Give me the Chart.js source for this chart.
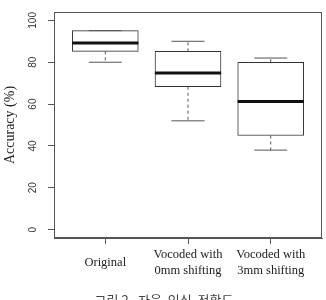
<!DOCTYPE html>
<html>
<head>
<meta charset="utf-8">
<script src="https://cdn.jsdelivr.net/npm/chart.js@4/dist/chart.umd.min.js"></script>
<style>
    html, body { margin: 0; padding: 0; background: #fff; overflow: hidden; }
    #wrap { position: relative; width: 326px; height: 300px; overflow: hidden; }
    #caption {
        position: absolute; left: 1px; top: 293px; width: 326px;
        text-align: center; font: 13px/13px "Noto Sans CJK KR"; color: #444; white-space: pre;
    }
</style>
</head>
<body>
<div id="wrap">
    <canvas id="chart" width="326" height="300"></canvas>
    <div id="caption">그림 2.  자음  인식  정확도</div>
</div>
<script>
// Box plot summary
const categories = ['Original', ['Vocoded with', '0mm shifting'], ['Vocoded with', '3mm shifting']];
const mins = [80, 52, 38];
const q1s = [85.2, 68.3, 45];
const medians = [89.2, 74.9, 61.2];
const q3s = [95.1, 85.2, 80];
const maxs = [95.1, 90, 82];
const yTicks = [0, 20, 40, 60, 80, 100];

document.addEventListener("DOMContentLoaded", () => {
    const axisColor = '#555';
    const half = 0.4;   // half box width in x units
    const cap = 0.2;    // half whisker cap width

    // build segment lists, separated by gap points
    const whiskers = [];
    const caps = [];
    const medianLines = [];
    categories.forEach((c, i) => {
        const x = i + 1;
        whiskers.push({ x: x, y: q3s[i] }, { x: x, y: maxs[i] }, { x: x, y: null });
        whiskers.push({ x: x, y: q1s[i] }, { x: x, y: mins[i] }, { x: x, y: null });
        caps.push({ x: x - cap, y: maxs[i] }, { x: x + cap, y: maxs[i] }, { x: x, y: null });
        caps.push({ x: x - cap, y: mins[i] }, { x: x + cap, y: mins[i] }, { x: x, y: null });
        medianLines.push({ x: x - half, y: medians[i] }, { x: x + half, y: medians[i] }, { x: x, y: null });
    });

    // R style box around the plot region
    const frame = {
        id: 'frame',
        afterDatasetsDraw(chart) {
            const { ctx, chartArea: a } = chart;
            ctx.save();
            ctx.strokeStyle = axisColor;
            ctx.lineWidth = 1;
            ctx.strokeRect(a.left + 0.5, a.top + 0.5, a.right - a.left - 1, a.bottom - a.top - 1);
            ctx.restore();
        }
    };

    const lineStyle = { type: 'line', pointRadius: 0, borderWidth: 1, tension: 0, fill: false, spanGaps: false };

    new Chart(document.getElementById('chart'), {
        type: 'bar',
        data: {
            datasets: [
                {
                    ...lineStyle, data: medianLines, borderColor: '#111', borderWidth: 3, order: 1
                },
                {
                    ...lineStyle, data: caps, borderColor: '#555', order: 2
                },
                {
                    ...lineStyle, data: whiskers, borderColor: '#555', borderDash: [3, 3], order: 2
                },
                {
                    type: 'bar',
                    data: q1s.map((v, i) => ({ x: i + 1, y: [v, q3s[i]] })),
                    backgroundColor: '#fff',
                    borderColor: '#333',
                    borderWidth: 1,
                    borderSkipped: false,
                    barThickness: 66,
                    order: 3
                }
            ]
        },
        options: {
            responsive: false,
            animation: false,
            devicePixelRatio: 1,
            layout: { padding: { top: 8, right: 4, left: 0, bottom: 0 } },
            plugins: { legend: { display: false }, tooltip: { enabled: false } },
            scales: {
                x: {
                    type: 'linear',
                    min: 0.38,
                    max: 3.62,
                    offset: false,
                    afterBuildTicks: scale => { scale.ticks = categories.map((c, i) => ({ value: i + 1 })); },
                    afterFit: scale => { scale.height = 62; },
                    grid: { offset: false, drawOnChartArea: false, tickLength: 6, color: axisColor },
                    border: { display: true, color: axisColor },
                    ticks: {
                        autoSkip: false,
                        maxRotation: 0,
                        crossAlign: 'center',
                        padding: 11,
                        color: '#222',
                        font: { family: 'Liberation Serif', size: 12.5, lineHeight: 1.24 },
                        callback: value => categories[value - 1]
                    }
                },
                y: {
                    min: -4,
                    max: 104,
                    afterBuildTicks: scale => { scale.ticks = yTicks.map(v => ({ value: v })); },
                    afterFit: scale => { scale.width = 54; },
                    grid: { drawOnChartArea: false, tickLength: 6, color: axisColor },
                    border: { display: true, color: axisColor },
                    ticks: {
                        minRotation: 90,
                        maxRotation: 90,
                        crossAlign: 'center',
                        padding: 6,
                        color: '#333',
                        font: { family: 'Liberation Sans', size: 10 }
                    },
                    title: {
                        display: true,
                        text: 'Accuracy (%)',
                        color: '#222',
                        padding: { top: 2, bottom: 0 },
                        font: { family: 'Liberation Serif', size: 14 }
                    }
                }
            }
        },
        plugins: [frame]
    });
});
</script>
</body>
</html>
